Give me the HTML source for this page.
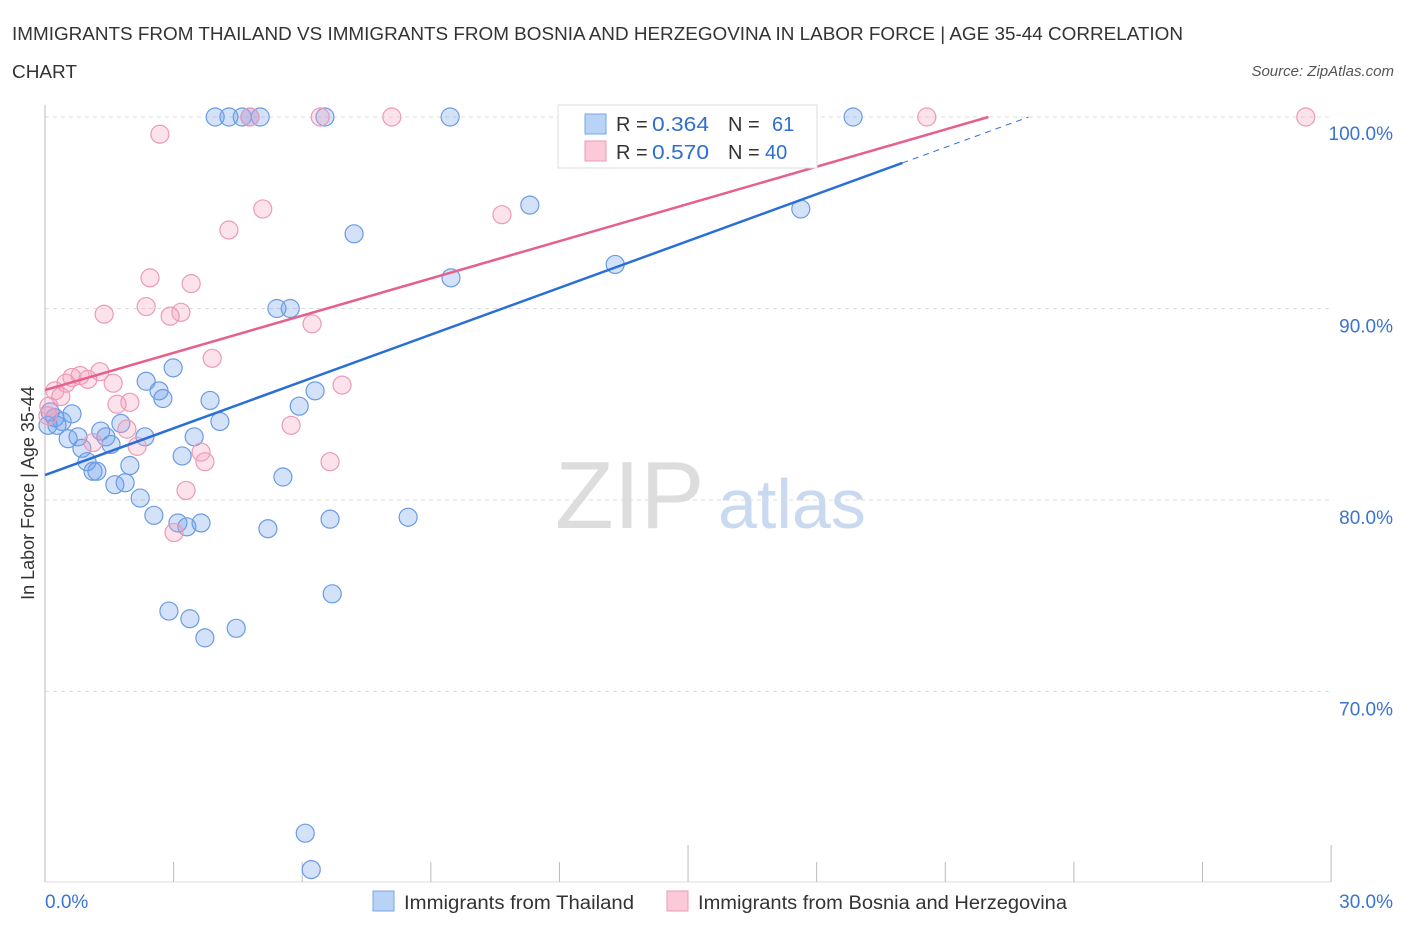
<!DOCTYPE html>
<html><head><meta charset="utf-8"><style>
body{margin:0;background:#fff;font-family:"Liberation Sans",sans-serif;}
svg text{font-family:"Liberation Sans",sans-serif;}
</style></head><body>
<svg id="chart" width="1406" height="930">
<text x="12" y="40" font-size="18" fill="#333" textLength="1171" lengthAdjust="spacingAndGlyphs">IMMIGRANTS FROM THAILAND VS IMMIGRANTS FROM BOSNIA AND HERZEGOVINA IN LABOR FORCE | AGE 35-44 CORRELATION</text>
<text x="12" y="78" font-size="18" fill="#333" textLength="65" lengthAdjust="spacingAndGlyphs">CHART</text>
<text x="1394" y="76" font-size="15" fill="#555" text-anchor="end" font-style="italic">Source: ZipAtlas.com</text>
<text x="34" y="493" font-size="18" fill="#333" text-anchor="middle" transform="rotate(-90 34 493)">In Labor Force | Age 35-44</text>
<text x="555" y="528" font-size="96" fill="#ddd" font-family="Liberation Serif">ZIP</text>
<text x="718" y="528" font-size="70" fill="#c9d9f0">atlas</text>
<g id="grid"></g><g id="axes"></g><g id="pts"></g><g id="lines"></g>
<g>
<rect x="558" y="105" width="259" height="63" fill="#fff" stroke="#ddd"/>
<rect x="585" y="114" width="21" height="20" fill="#b8d3f5" stroke="#7aa6e6"/>
<text x="616" y="131" font-size="20" fill="#333">R = </text><text x="652" y="131" font-size="20" fill="#2f6fd0" textLength="57" lengthAdjust="spacingAndGlyphs">0.364</text>
<text x="728" y="131" font-size="20" fill="#333">N = </text><text x="772" y="131" font-size="20" fill="#2f6fd0">61</text>
<rect x="585" y="141" width="21" height="20" fill="#fbc9d8" stroke="#eb9bb6"/>
<text x="616" y="159" font-size="20" fill="#333">R = </text><text x="652" y="159" font-size="20" fill="#2f6fd0" textLength="57" lengthAdjust="spacingAndGlyphs">0.570</text>
<text x="728" y="159" font-size="20" fill="#333">N = </text><text x="765" y="159" font-size="20" fill="#2f6fd0">40</text>
</g>
<g>
<rect x="373" y="891" width="21" height="20" fill="#b8d3f5" stroke="#7aa6e6"/>
<text x="404" y="909" font-size="19" fill="#333" textLength="230" lengthAdjust="spacingAndGlyphs">Immigrants from Thailand</text>
<rect x="667" y="891" width="21" height="20" fill="#fbc9d8" stroke="#eb9bb6"/>
<text x="698" y="909" font-size="19" fill="#333" textLength="369" lengthAdjust="spacingAndGlyphs">Immigrants from Bosnia and Herzegovina</text>
</g>
</svg>
<script>
const xTicks=[0,3,6,9,12,15,18,21,24,27,30];
const yTicks=[70,80,90,100];
const blueX=[3.97,4.29,4.6,4.78,5.02,6.53,9.45,18.85,11.31,7.21,17.63,13.3,9.47,5.41,5.72,2.99,2.36,2.66,2.75,3.85,6.3,5.93,4.08,0.63,0.4,0.23,0.28,1.3,1.77,1.42,1.54,2.33,3.48,0.54,0.77,0.86,0.98,1.12,1.21,1.98,3.2,1.63,1.87,2.22,5.55,2.54,3.1,3.31,3.64,5.2,6.65,8.47,6.7,2.89,3.38,3.73,4.46,6.07,6.21,0.07,0.12];
const blueY=[100,100,100,100,100,100,100,100,95.4,93.9,95.2,92.3,91.6,90,90,86.9,86.2,85.7,85.3,85.2,85.7,84.9,84.1,84.5,84.1,84.3,83.9,83.6,84,83.3,82.9,83.3,83.3,83.2,83.3,82.7,82,81.5,81.5,81.8,82.3,80.8,80.9,80.1,81.2,79.2,78.8,78.6,78.8,78.5,79,79.1,75.1,74.2,73.8,72.8,73.3,62.6,60.7,83.9,84.6];
const pinkX=[2.68,4.78,6.42,8.09,15.35,20.57,29.41,5.08,4.29,10.66,2.45,3.41,2.36,1.38,3.17,2.92,6.23,3.9,1.28,0.82,0.63,1,0.49,0.23,1.59,0.37,1.98,1.68,0.09,0.07,1.12,1.91,2.15,3.64,3.73,5.74,6.93,6.65,3.29,3.01];
const pinkY=[99.1,100,100,100,100,100,100,95.2,94.1,94.9,91.6,91.3,90.1,89.7,89.8,89.6,89.2,87.4,86.7,86.5,86.4,86.3,86.1,85.7,86.1,85.4,85.1,85,84.9,84.4,83,83.7,82.8,82.5,82,83.9,86,82,80.5,78.3];
const blueLine=[81.3,0.815], pinkLine=[85.74,0.648];
const X=v=>45+v*42.87, Y=v=>117+(100-v)*19.15;
const NS='http://www.w3.org/2000/svg';
function mk(t,a,p){const e=document.createElementNS(NS,t);for(const k in a)e.setAttribute(k,a[k]);document.getElementById(p).appendChild(e);return e;}
yTicks.forEach(t=>{
 const g=mk('line',{x1:45,x2:1331,y1:Y(t),y2:Y(t),stroke:'#ddd','stroke-dasharray':'4,4'},'grid');
 
 
 const l=mk('text',{x:1393,y:Y(t)+(t==100?23:24),'font-size':19,fill:'#3b73d1','text-anchor':'end'},'axes');
 l.textContent=t.toFixed(1)+'%';
 
 
});
const ax=mk('line',{x1:45,x2:45,y1:105,y2:882,stroke:'#bbb'},'axes');


const bx=mk('line',{x1:45,x2:1331,y1:882,y2:882,stroke:'#ddd'},'axes');


xTicks.forEach((t,i)=>{
 const tk=mk('line',{x1:X(t),x2:X(t),y1:(i==5||i==10)?845:862,y2:882,stroke:'#bbb'},'axes');
 
 
});
[[0,'start'],[30,'end']].forEach(([t,a])=>{
 const l=mk('text',{x:t==0?45:1393,y:908,'font-size':19,fill:'#3b73d1','text-anchor':a},'axes');
 l.textContent=t.toFixed(1)+'%';
 
 
});
blueX.forEach((x,i)=>{
 const c=mk('circle',{cx:X(x),cy:Y(blueY[i]),r:9,fill:'rgba(110,160,235,0.3)',stroke:'#6a9be3','stroke-width':1.2},'pts');
 
 
});
pinkX.forEach((x,i)=>{
 const c=mk('circle',{cx:X(x),cy:Y(pinkY[i]),r:9,fill:'rgba(245,160,190,0.3)',stroke:'#ec9ab5','stroke-width':1.2},'pts');
 
 
});
const bEnd=(100-blueLine[0])/blueLine[1];
const b1=mk('line',{x1:X(0),y1:Y(blueLine[0]),x2:X(20),y2:Y(blueLine[0]+blueLine[1]*20),stroke:'#2a6fd6','stroke-width':2.5},'lines');


const b2=mk('line',{x1:X(20),y1:Y(blueLine[0]+blueLine[1]*20),x2:X(bEnd),y2:Y(100),stroke:'#2a6fd6','stroke-width':1,'stroke-dasharray':'6,5'},'lines');


const pEnd=(100-pinkLine[0])/pinkLine[1];
const p1=mk('line',{x1:X(0),y1:Y(pinkLine[0]),x2:X(pEnd),y2:Y(100),stroke:'#e5608c','stroke-width':2.5},'lines');


</script>
</body></html>
